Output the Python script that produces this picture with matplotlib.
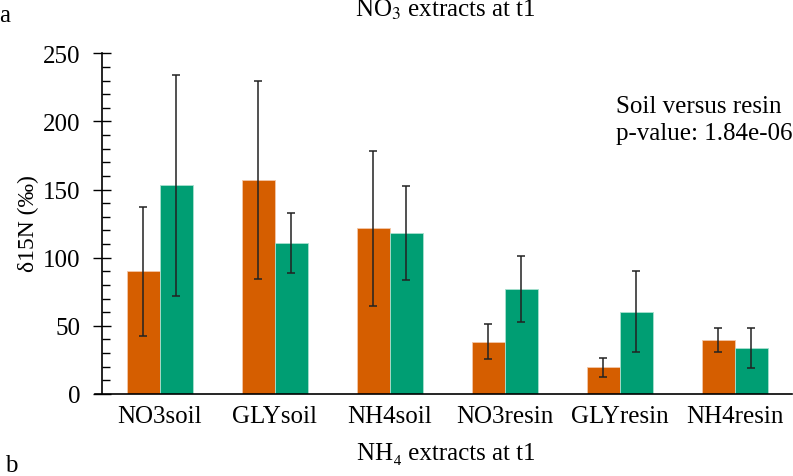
import numpy as np
import matplotlib
matplotlib.use('Agg')
import matplotlib.pyplot as plt
from matplotlib.ticker import MultipleLocator

plt.rcParams['font.family'] = ['Liberation Serif', 'DejaVu Serif']
plt.rcParams['mathtext.fontset'] = 'stix'

# d15N of the extracts at t1, soil vs resin treatments
groups = ['NO3soil', 'GLYsoil', 'NH4soil', 'NO3resin', 'GLYresin', 'NH4resin']
no3_mean = [90, 157, 121.5, 38.5, 19.5, 39.5]
no3_err = [47.5, 72.5, 57, 12.6, 7.2, 8.8]
nh4_mean = [153, 110.5, 118, 77, 60.5, 33.5]
nh4_err = [81, 22, 34.5, 24.3, 30, 14.7]

orange = '#D55E00'
green = '#009E73'

W, H = 793, 477
fig = plt.figure(figsize=(W / 100, H / 100), dpi=100)
ax = fig.add_axes([102 / W, (H - 395) / H, (792.5 - 102) / W, (395 - 54.3) / H])

x = np.arange(len(groups))
w = 0.287
ekw = dict(ecolor='#222222', elinewidth=1.1, capsize=3, capthick=1.1)
ax.bar(x - w / 2, no3_mean, w, yerr=no3_err, color=orange,
       edgecolor='#f3c7a8', linewidth=0.6, error_kw=ekw)
ax.bar(x + w / 2, nh4_mean, w, yerr=nh4_err, color=green,
       edgecolor='#a8e0cf', linewidth=0.6, error_kw=ekw)

ax.set_xlim(-0.5, len(groups) - 0.5)
ax.set_ylim(0, 250)
ax.yaxis.set_major_locator(MultipleLocator(50))
ax.yaxis.set_minor_locator(MultipleLocator(10))
ax.tick_params(axis='y', which='major', direction='inout', length=13,
               width=1, labelsize=18, pad=9)
ax.tick_params(axis='y', which='minor', direction='in', length=6, width=1)
ax.set_xticks(x)
ax.set_xticklabels(groups)
ax.tick_params(axis='x', length=0, labelsize=18, pad=8)
for s in ['top', 'right']:
    ax.spines[s].set_visible(False)
ax.spines['left'].set_linewidth(1.2)
ax.spines['bottom'].set_linewidth(1.2)
ax.spines['bottom'].set_bounds(-0.56, len(groups) - 0.5)
ax.spines['bottom'].set_clip_on(False)

fig.text(28 / W, 1 - 224 / H, 'δ15N (‰)', rotation=90, ha='center', va='center', fontsize=17)
fig.text(445 / W, 1 - 17 / H, 'NO$_3$ extracts at t1', ha='center', va='baseline', fontsize=18)
fig.text(446 / W, 1 - 460 / H, 'NH₄ extracts at t1', ha='center', va='baseline', fontsize=18)
fig.text(-1 / W, 1 - 22 / H, 'a', ha='left', va='baseline', fontsize=18)
fig.text(5 / W, 1 - 472 / H, 'b', ha='left', va='baseline', fontsize=18)
fig.text(616 / W, 1 - 113 / H, 'Soil versus resin', ha='left', va='baseline', fontsize=18)
fig.text(616 / W, 1 - 140 / H, 'p-value: 1.84e-06', ha='left', va='baseline', fontsize=18)

fig.savefig('out.png', dpi=100)
